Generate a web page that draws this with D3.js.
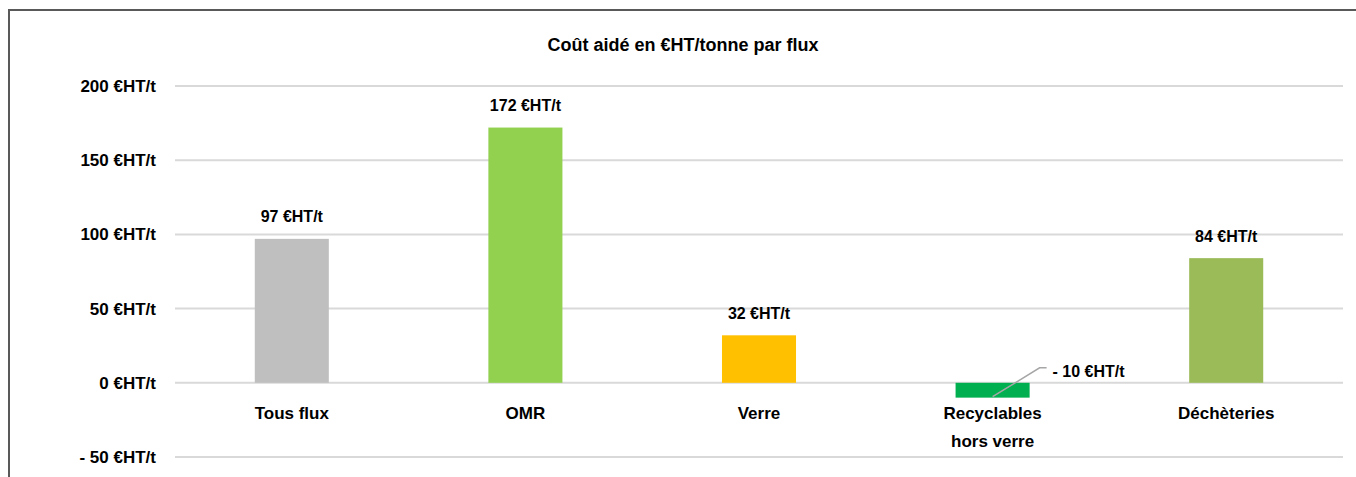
<!DOCTYPE html>
<html>
<head>
<meta charset="utf-8">
<script src="https://cdn.jsdelivr.net/npm/d3@7"></script>
<style>
  body { margin: 0; background: #fff; }
  text { font-family: "Liberation Sans", Arial, sans-serif; fill: #000; }
</style>
</head>
<body>
<div id="chart"></div>
<script>
// values
const categories = ["Tous flux", "OMR", "Verre", "Recyclables hors verre", "Déchèteries"];
const values = [97, 172, 32, -10, 84];
const barColors = ["#bfbfbf", "#92d050", "#ffc000", "#00b050", "#9bbb59"];
const valueLabels = ["97 €HT/t", "172 €HT/t", "32 €HT/t", "- 10 €HT/t", "84 €HT/t"];
const yTicks = [-50, 0, 50, 100, 150, 200];
const yTickLabels = ["- 50 €HT/t", "0 €HT/t", "50 €HT/t", "100 €HT/t", "150 €HT/t", "200 €HT/t"];

const width = 1356, height = 477;
const margin = {top: 86, right: 13, bottom: 20, left: 175};

const svg = d3.select("#chart").append("svg")
  .attr("width", width)
  .attr("height", height);

// outer frame (only top and left visible in the crop)
svg.append("path")
  .attr("d", "M9,477 V10 H1356")
  .attr("fill", "none")
  .attr("stroke", "#595959")
  .attr("stroke-width", 2);

const x = d3.scaleBand()
  .domain(categories)
  .range([margin.left, width - margin.right])
  .paddingInner(0.683)
  .paddingOuter(0.683 / 2);

const y = d3.scaleLinear()
  .domain([-50, 200])
  .range([457, 86]);

// gridlines
svg.append("g")
  .selectAll("line")
  .data(yTicks)
  .enter().append("line")
  .attr("x1", margin.left)
  .attr("x2", width - margin.right)
  .attr("y1", d => y(d))
  .attr("y2", d => y(d))
  .attr("stroke", "#d9d9d9")
  .attr("stroke-width", 2);

// y axis labels
const yAxis = svg.append("g")
  .attr("transform", "translate(" + margin.left + ",0)")
  .call(d3.axisLeft(y).tickValues(yTicks).tickSize(0).tickPadding(19)
    .tickFormat((d, i) => yTickLabels[i]));
yAxis.select(".domain").remove();
yAxis.selectAll("text")
  .style("font-family", "'Liberation Sans', Arial, sans-serif")
  .style("font-size", "17px")
  .style("font-weight", "bold")
  .attr("fill", "#000");

// bars
svg.selectAll("rect.bar")
  .data(values)
  .enter().append("rect")
  .attr("class", "bar")
  .attr("x", (d, i) => x(categories[i]))
  .attr("width", x.bandwidth())
  .attr("y", d => y(Math.max(0, d)))
  .attr("height", d => Math.abs(y(d) - y(0)))
  .attr("fill", (d, i) => barColors[i]);

// value labels
values.forEach((v, i) => {
  const cx = x(categories[i]) + x.bandwidth() / 2;
  if (v >= 0) {
    svg.append("text")
      .attr("x", cx)
      .attr("y", y(v) - 22)
      .attr("dy", "0.35em")
      .attr("text-anchor", "middle")
      .style("font-size", "16px")
      .style("font-weight", "bold")
      .text(valueLabels[i]);
  } else {
    // leader line for negative value
    const lx = cx, ly = y(v) - 1;
    svg.append("polyline")
      .attr("points", [[lx, ly], [lx + 47, y(0) - 15], [lx + 54, y(0) - 15]].join(" "))
      .attr("fill", "none")
      .attr("stroke", "#a6a6a6")
      .attr("stroke-width", 1.5);
    svg.append("text")
      .attr("x", lx + 60)
      .attr("y", y(0) - 11)
      .attr("dy", "0.35em")
      .style("font-size", "16px")
      .style("font-weight", "bold")
      .text(valueLabels[i]);
  }
});

// category labels
svg.selectAll("text.cat")
  .data(categories)
  .enter().append("text")
  .attr("class", "cat")
  .attr("text-anchor", "middle")
  .attr("x", d => x(d) + x.bandwidth() / 2)
  .attr("y", 413)
  .attr("dy", "0.35em")
  .style("font-size", "17px")
  .style("font-weight", "bold")
  .each(function(d) {
    const t = d3.select(this);
    if (d === "Recyclables hors verre") {
      t.append("tspan").attr("x", t.attr("x")).text("Recyclables");
      t.append("tspan").attr("x", t.attr("x")).attr("dy", "28").text("hors verre");
    } else {
      t.text(d);
    }
  });

// title
svg.append("text")
  .attr("x", 683)
  .attr("y", 45)
  .attr("dy", "0.35em")
  .attr("text-anchor", "middle")
  .style("font-size", "18px")
  .style("font-weight", "bold")
  .text("Coût aidé en €HT/tonne par flux");
</script>
</body>
</html>
